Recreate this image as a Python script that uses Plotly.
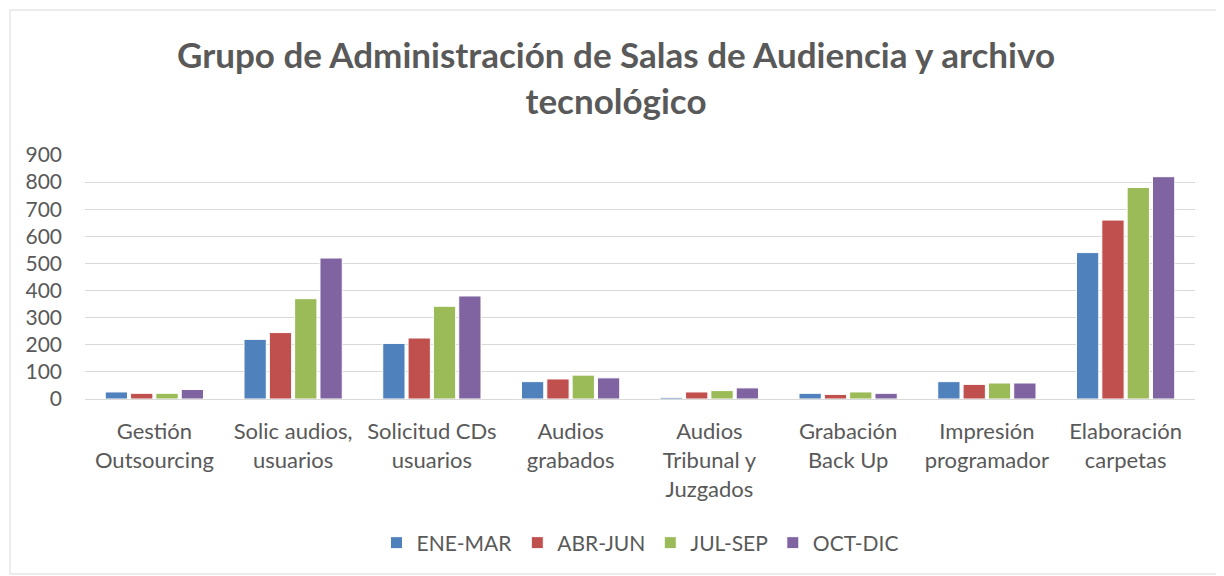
import plotly.graph_objects as go

# Categories and quarterly values
categorias = ['Gestión<br>Outsourcing', 'Solic audios,<br>usuarios', 'Solicitud CDs<br>usuarios',
              'Audios<br>grabados', 'Audios<br>Tribunal y<br>Juzgados', 'Grabación<br>Back Up',
              'Impresión<br>programador', 'Elaboración<br>carpetas']
ene_mar = [26, 220, 205, 64, 6, 21, 64, 540]
abr_jun = [21, 245, 225, 74, 26, 17, 54, 660]
jul_sep = [21, 370, 342, 88, 31, 26, 59, 780]
oct_dic = [35, 520, 380, 78, 41, 21, 59, 820]

series = [('ENE-MAR', ene_mar, '#4F81BD'), ('ABR-JUN', abr_jun, '#C0504D'),
          ('JUL-SEP', jul_sep, '#9BBB59'), ('OCT-DIC', oct_dic, '#8064A2')]

fig = go.Figure()
for nombre, valores, color in series:
    fig.add_trace(go.Bar(x=categorias, y=valores, name=nombre,
                         marker=dict(color=color, line=dict(color='white', width=1))))

# the page body has an 8px margin, so the figure is a bit smaller than the window
W, H = 1216, 568
ml, mr, mt, mb = 77, 29, 147, 177
pw, ph = W - ml - mr, H - mt - mb

fig.update_layout(
    width=W, height=H,
    barmode='group', bargap=0.27, bargroupgap=0.12,
    plot_bgcolor='white', paper_bgcolor='white',
    font=dict(family='Lato, sans-serif', color='#595959', size=22),
    title=dict(text='<b>Grupo de Administración de Salas de Audiencia y archivo<br>tecnológico</b>',
               x=0.5, xanchor='center', y=1 - 60 / H, yanchor='middle',
               font=dict(size=35, color='#595959')),
    margin=dict(l=ml, r=mr, t=mt, b=mb),
    xaxis=dict(showgrid=False, showline=True, linecolor='#D9D9D9', linewidth=1,
               ticks='', tickfont=dict(size=22), ticklabelstandoff=13),
    yaxis=dict(range=[0, 900], dtick=100, showgrid=True, gridcolor='#D9D9D9',
               zeroline=False, ticks='', tickfont=dict(size=21), ticklabelstandoff=22),
    legend=dict(orientation='h', x=0.5, xanchor='center', y=-(535 - 391) / ph, yanchor='middle',
                font=dict(size=21), traceorder='normal', itemwidth=30),
    shapes=[dict(type='rect', xref='paper', yref='paper',
                 x0=(2 - ml) / pw, x1=(1211 - ml) / pw,
                 y0=(H - mb - 566) / ph, y1=(H - mb - 2) / ph,
                 line=dict(color='#D9D9D9', width=1))],
)

fig.write_html('out.html')
